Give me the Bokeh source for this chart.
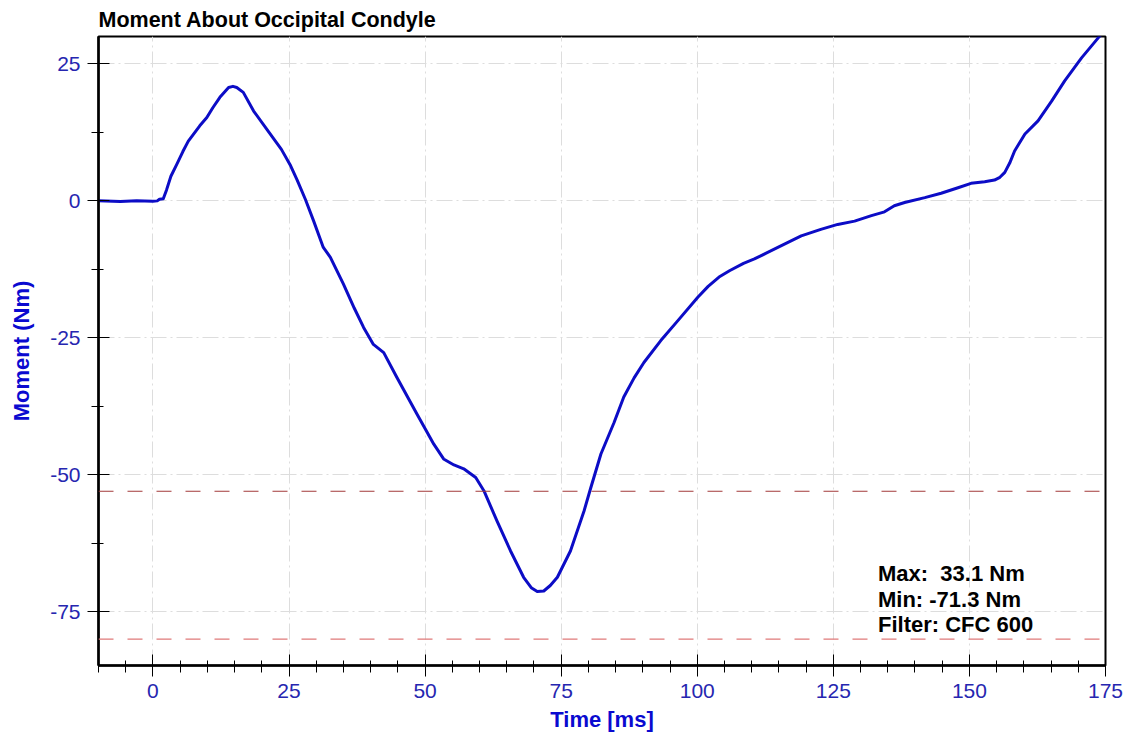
from bokeh.plotting import figure
from bokeh.models import Range1d, SingleIntervalTicker, Span, Label, CustomJSTickFormatter
from bokeh.embed import file_html
from bokeh.resources import INLINE

# ---- data ----
time_ms = [-10, -6, -3, 0, 0.8, 1.2, 1.9, 2.5, 3.3, 4.4, 5.5, 6.5, 8.6, 9.9, 11.0,
           12.3, 13.9, 14.7, 15.4, 16.6, 18.5, 20.9, 23.6, 25.3, 26.5, 28.0, 29.5,
           31.3, 32.6, 35.0, 37.0, 38.7, 40.5, 42.4, 44.8, 48.5, 51.6, 53.4, 55.3,
           57.1, 59.3, 60.8, 63.2, 65.7, 68.1, 69.5, 70.6, 71.8, 73.0, 74.3, 76.7,
           79.2, 80.4, 82.3, 84.7, 86.5, 88.4, 90.2, 93.3, 96.4, 100.1, 102.0, 104.0,
           106.0, 108.5, 110.5, 114.8, 119.1, 122.7, 125.8, 128.9, 132.0, 134.4, 136.2,
           138.1, 141.8, 144.8, 147.9, 150.3, 152.8, 154.6, 155.6, 156.5, 157.4, 158.3,
           160.2, 162.6, 165.1, 167.5, 170.6, 173.7, 175.0]
moment_nm = [0.0, -0.1, 0.0, -0.05, 0.0, 0.3, 0.4, 2.0, 4.5, 6.7, 9.0, 10.9, 13.7, 15.2, 17.0,
             18.9, 20.7, 20.9, 20.7, 19.8, 16.4, 13.1, 9.4, 6.4, 3.8, 0.3, -3.6,
             -8.5, -10.3, -15.2, -19.6, -23.1, -26.2, -27.7, -32.2, -38.9, -44.4, -47.1, -48.2,
             -48.9, -50.5, -52.9, -58.4, -63.9, -68.7, -70.6, -71.3, -71.2, -70.2, -68.7, -63.9,
             -56.6, -52.5, -46.2, -40.5, -35.8, -32.3, -29.5, -25.5, -21.9, -17.6, -15.6, -13.9,
             -12.7, -11.4, -10.6, -8.5, -6.4, -5.2, -4.3, -3.7, -2.7, -2.0, -0.9,
             -0.3, 0.6, 1.4, 2.4, 3.2, 3.5, 3.8, 4.3, 5.2, 6.9, 9.1,
             12.2, 14.6, 18.2, 21.9, 26.1, 29.8, 31.2]
upper_limit = -53.0
lower_limit = -80.0
stats_lines = ["Max:\u00a0 33.1 Nm", "Min: -71.3 Nm", "Filter: CFC 600"]
title_text = "Moment About Occipital Condyle"
x_label = "Time [ms]"
y_label = "Moment (Nm)"

FONT = "Liberation Sans"
TICK_BLUE = "#2626b0"
LABEL_BLUE = "#0a0ad0"
LINE_BLUE = "#0c0cc6"

p = figure(width=1131, height=736, output_backend="svg", toolbar_location=None,
           x_range=Range1d(-10, 175), y_range=Range1d(-84.8, 30.0),
           min_border_left=98, min_border_right=26, min_border_top=36, min_border_bottom=71)

p.title.text = title_text
p.title.text_font = FONT
p.title.text_font_size = "21.5px"
p.title.text_font_style = "bold"
p.title.text_color = "black"
p.title.align = "left"
p.title.offset = 0
p.title.standoff = 9

p.outline_line_color = "black"
p.outline_line_width = 2
p.background_fill_color = "white"
p.border_fill_color = "white"

xt = SingleIntervalTicker(interval=25, num_minor_ticks=5)
yt = SingleIntervalTicker(interval=25, num_minor_ticks=2)
p.xaxis.ticker = xt
p.yaxis.ticker = yt
p.xgrid.ticker = xt
p.ygrid.ticker = yt

fmt = CustomJSTickFormatter(code="return String(tick);")

for ax in (p.xaxis[0], p.yaxis[0]):
    ax.formatter = fmt
    ax.axis_line_color = "black"
    ax.axis_line_width = 2.5
    ax.major_tick_line_color = "black"
    ax.minor_tick_line_color = "black"
    ax.major_tick_line_width = 1
    ax.minor_tick_line_width = 1
    ax.major_tick_in = 11
    ax.major_tick_out = 11
    ax.minor_tick_in = 5
    ax.minor_tick_out = 7
    ax.major_label_text_font = FONT
    ax.major_label_text_font_size = "21px"
    ax.major_label_text_color = TICK_BLUE
    ax.axis_label_text_font = FONT
    ax.axis_label_text_font_size = "22px"
    ax.axis_label_text_font_style = "bold"
    ax.axis_label_text_color = LABEL_BLUE

p.xaxis.axis_label = x_label
p.yaxis.axis_label = y_label
p.xaxis.major_label_standoff = 7
p.xaxis.axis_label_standoff = 6
p.yaxis.major_label_standoff = 7
p.yaxis.axis_label_standoff = 13

for g in (p.xgrid[0], p.ygrid[0]):
    g.grid_line_color = "#dddddd"
    g.grid_line_width = 1
    g.grid_line_dash = "16 4 2 4"

p.add_layout(Span(location=upper_limit, dimension="width", line_color="#a33a3a",
                  line_width=1, line_dash="15 14"))
p.add_layout(Span(location=lower_limit, dimension="width", line_color="#e07a7a",
                  line_width=1.2, line_dash="15 14"))

p.line(time_ms, moment_nm, line_color=LINE_BLUE, line_width=3, line_join="round")

for i, txt in enumerate(stats_lines):
    p.add_layout(Label(x=133.2, y=-68.0 - 4.7 * i, text=txt, text_font=FONT,
                       text_font_size="22px", text_font_style="bold",
                       text_color="black", text_baseline="alphabetic"))

open("out.html", "w").write(file_html(p, INLINE))
